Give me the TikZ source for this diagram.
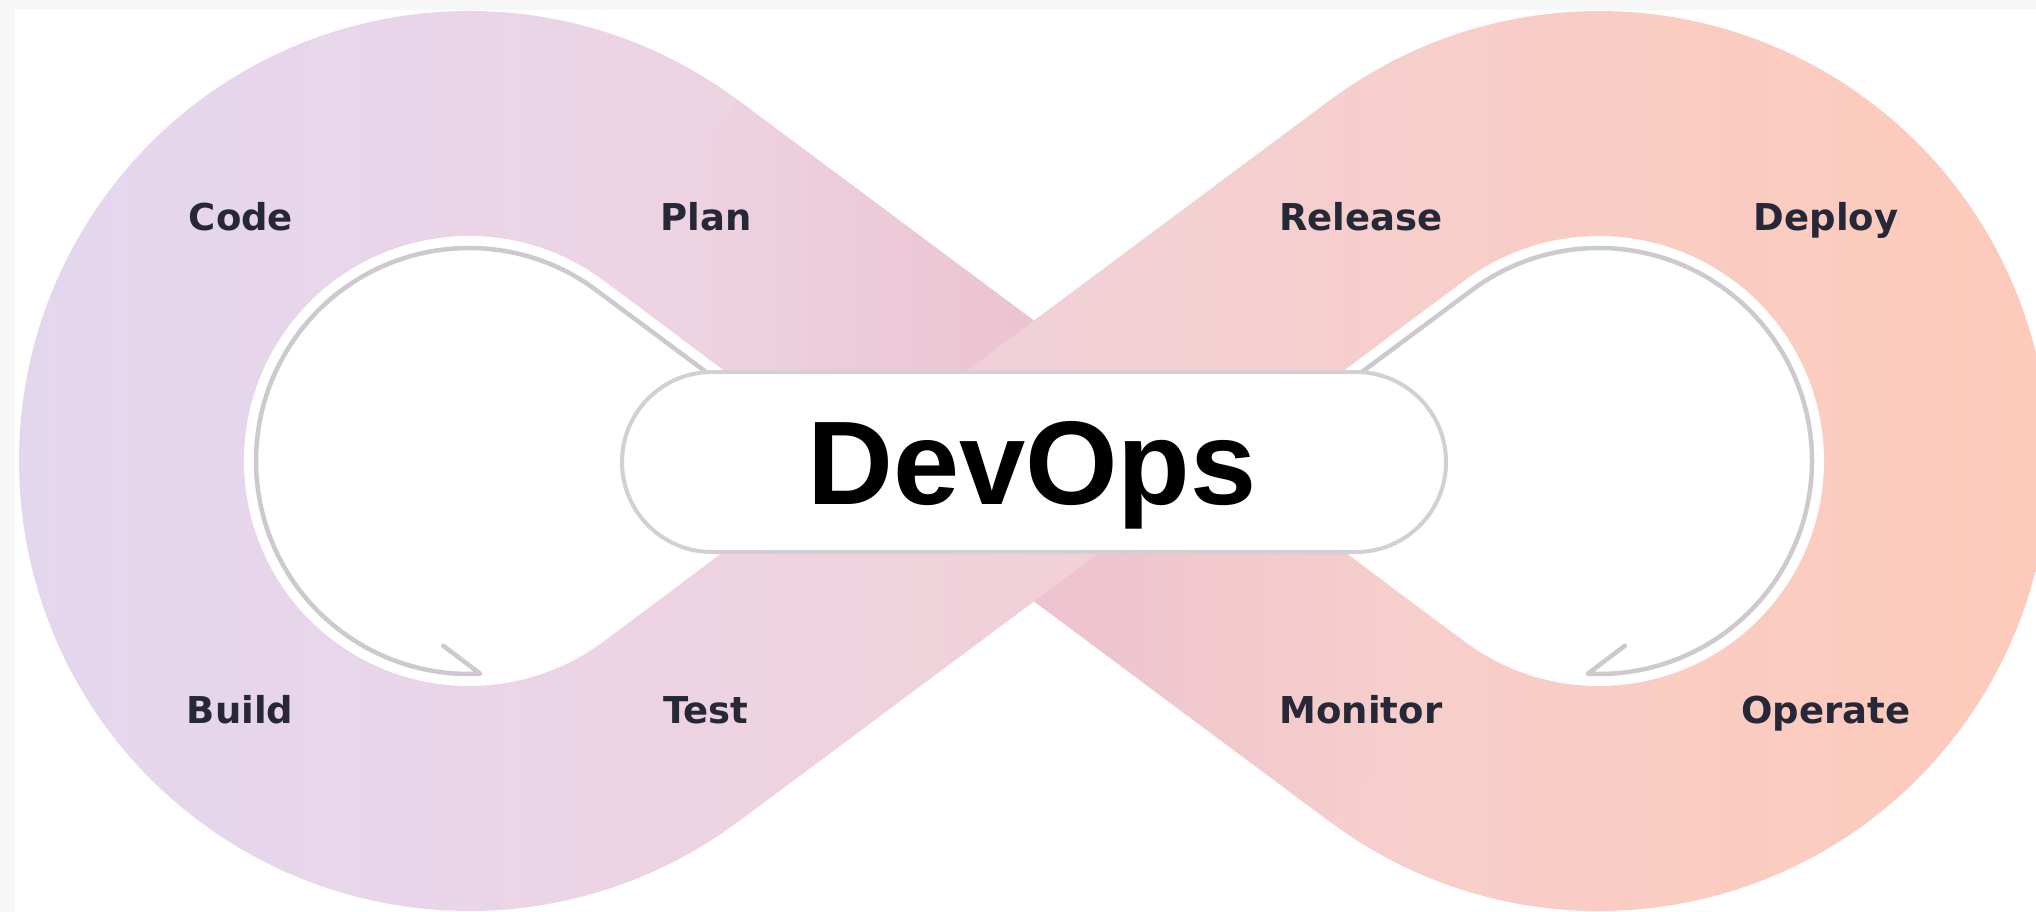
\documentclass[tikz,border=0pt]{standalone}
\usepackage{fontspec}
\usetikzlibrary{shapes.misc}
\newfontfamily\labelfont{DejaVu Sans}
\newfontfamily\titlefont{Liberation Sans}

% page and ink colours
\definecolor{pagegray}{HTML}{F7F7F7}
\definecolor{labelink}{HTML}{262838}
\definecolor{loopgray}{HTML}{CDC9CE}
\definecolor{boxgray}{HTML}{D3CFD4}
% band gradient stops, left to right
\definecolor{bandA}{HTML}{E3D7EE}   % x = 15
\definecolor{bandB}{HTML}{EAD5E8}   % x = 470
\definecolor{bandC}{HTML}{EDD3E2}   % x = 680
\definecolor{bandD}{HTML}{F1D1D8}   % x = 1034
\definecolor{bandE}{HTML}{F6CECB}   % x = 1390
\definecolor{bandF}{HTML}{F9CDC4}   % x = 1600
\definecolor{bandG}{HTML}{FDCABA}   % x = 2036
\definecolor{bandshade}{HTML}{ECC3D0} % under-passing band near the crossing

\tikzset{
  stage/.style={anchor=base, inner sep=0pt, text=labelink,
    font=\labelfont\bfseries\fontsize{37}{44}\selectfont},
  looparrow/.style={draw=loopgray, line width=4.5pt, line cap=round, line join=round},
  hubbox/.style={draw=boxgray, line width=4pt, fill=white, rounded rectangle,
    minimum width=824pt, minimum height=180pt, inner sep=0pt},
  hubtitle/.style={anchor=base, inner sep=0pt, text=black,
    font=\titlefont\bfseries\fontsize{119}{130}\selectfont},
}

\begin{document}
\begin{tikzpicture}[x=1pt, y=-1pt]
\useasboundingbox (0,0) rectangle (2036,912);
\fill[pagegray] (0,0) rectangle (2036,912);
\fill[white] (15,10) rectangle (2036,912);

% lobe centres
\coordinate (CL) at (469,461);
\coordinate (CR) at (1599,461);

% the infinity band, shaded left to right
\begin{scope}
  \clip (1034,320.72) -- (737.81,100.11)
        arc[start angle=-53.32, end angle=-306.68, radius=450]
        -- (1034,601.28) -- (1330.19,821.89)
        arc[start angle=126.68, end angle=-126.68, radius=450] -- cycle;
  \shade[left color=bandA, right color=bandB] (14,0) rectangle (471,912);
  \shade[left color=bandB, right color=bandC] (470,0) rectangle (681,912);
  \shade[left color=bandC, right color=bandD] (680,0) rectangle (1035,912);
  \shade[left color=bandD, right color=bandE] (1034,0) rectangle (1391,912);
  \shade[left color=bandE, right color=bandF] (1390,0) rectangle (1601,912);
  \shade[left color=bandF, right color=bandG] (1600,0) rectangle (2060,912);
\end{scope}

% the two holes of the loop
\fill[white] (603.40,280.55) arc[start angle=-53.32, end angle=-306.68, radius=225]
  -- (845.67,461) -- cycle;
\fill[white] (1464.60,641.45) arc[start angle=126.68, end angle=-126.68, radius=225]
  -- (1222.33,461) -- cycle;

% descending strip, darker where it passes under
\begin{scope}
  \clip (737.81,100.11) -- (1464.60,641.45) -- (1330.19,821.89) -- (603.40,280.55) -- cycle;
  \shade[left color=bandC, right color=bandshade] (680,0) rectangle (1035,912);
  \shade[left color=bandshade, right color=bandE] (1034,0) rectangle (1390,912);
\end{scope}

% ascending strip lies on top at the crossing
\begin{scope}
  \clip (603.40,641.45) -- (737.81,821.89) -- (1464.60,280.55) -- (1330.19,100.11) -- cycle;
  \shade[left color=bandC, right color=bandD] (680,0) rectangle (1035,912);
  \shade[left color=bandD, right color=bandE] (1034,0) rectangle (1390,912);
\end{scope}

% cycle arrows inside the holes
\coordinate (lstart) at (724.56,385.76);
\coordinate (ltan) at (596.24,290.18);
\coordinate (rstart) at (1343.44,385.76);
\coordinate (rtan) at (1471.76,290.18);
\draw[looparrow] (lstart) -- (ltan)
  arc[start angle=-53.32, end angle=-273, radius=213] -- ++(-37,-28);
\draw[looparrow] (rstart) -- (rtan)
  arc[start angle=-126.68, end angle=93, radius=213] -- ++(37,-28);

% central badge
\node[hubbox] (hub) at (1034,462) {};
\node[hubtitle] (title) at (1032,504) {DevOps};

% stage labels
\node[stage] (code)    at (241,230)  {Code};
\node[stage] (plan)    at (706,230)  {Plan};
\node[stage] (release) at (1361,230) {Release};
\node[stage] (deploy)  at (1826,230) {Deploy};
\node[stage] (build)   at (240,723)  {Build};
\node[stage] (test)    at (706,723)  {Test};
\node[stage] (monitor) at (1361,723) {Monitor};
\node[stage] (operate) at (1826,723) {Operate};
\end{tikzpicture}
\end{document}
